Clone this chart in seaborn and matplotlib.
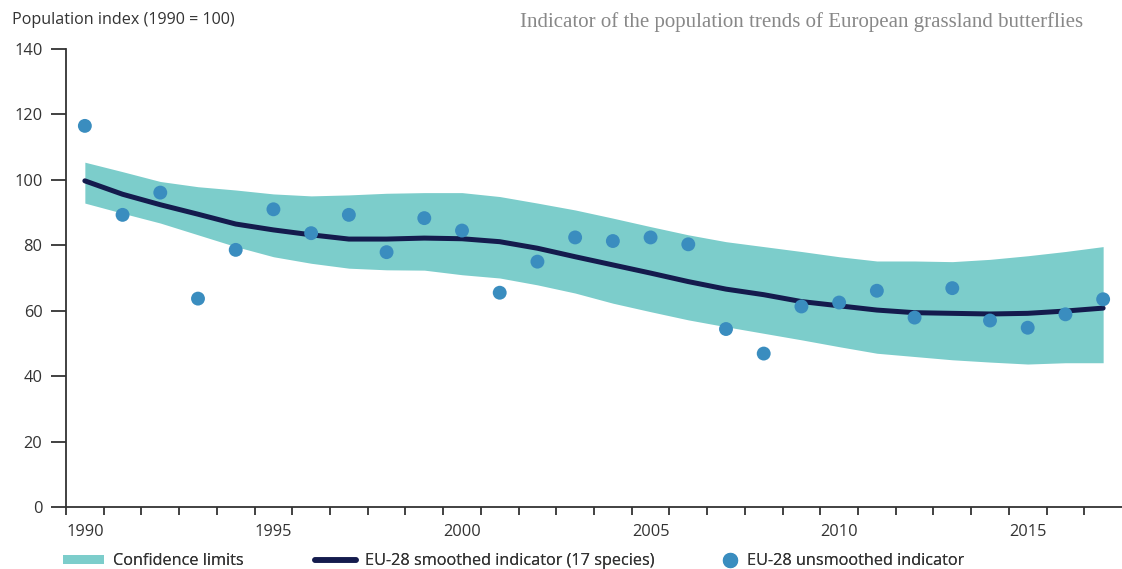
import numpy as np
import pandas as pd
import matplotlib
matplotlib.use("Agg")
import matplotlib.pyplot as plt
import seaborn as sns
from matplotlib.patches import Patch
from matplotlib.lines import Line2D

years = list(range(1990, 2018))
unsmoothed = [116.5, 89.3, 96.1, 63.7, 78.6, 91.0, 83.7, 89.3, 77.9, 88.3,
              84.5, 65.5, 75.0, 82.4, 81.3, 82.4, 80.3, 54.4, 46.9, 61.3,
              62.5, 66.1, 57.9, 66.9, 57.0, 54.8, 58.9, 63.5]
smoothed = [99.7, 95.6, 92.4, 89.5, 86.5, 84.7, 83.2, 81.9, 81.9, 82.2,
            82.0, 81.1, 79.1, 76.5, 74.0, 71.5, 68.9, 66.6, 64.9, 62.8,
            61.5, 60.2, 59.4, 59.2, 59.0, 59.2, 59.9, 60.8]
upper = [105.4, 102.5, 99.5, 97.9, 96.9, 95.7, 95.1, 95.4, 95.9, 96.1,
         96.1, 94.9, 92.9, 90.8, 88.3, 85.7, 83.2, 81.1, 79.6, 78.1,
         76.5, 75.2, 75.2, 75.0, 75.7, 76.8, 78.1, 79.6]
lower = [92.9, 89.8, 86.8, 83.2, 79.6, 76.5, 74.5, 73.0, 72.5, 72.4,
         71.0, 70.0, 67.9, 65.4, 62.3, 59.7, 57.2, 55.1, 53.1, 51.1,
         49.0, 47.0, 46.0, 45.0, 44.3, 43.7, 44.1, 44.1]
xtick_labels = [1990, 1995, 2000, 2005, 2010, 2015]
yticks = [0, 20, 40, 60, 80, 100, 120, 140]

df = pd.DataFrame({"year": years, "unsmoothed": unsmoothed,
                   "smoothed": smoothed, "upper": upper, "lower": lower})

sns.set_theme(style="white")
plt.rcParams["font.family"] = ["Open Sans", "DejaVu Sans"]

band_c = "#7ccdcb"
line_c = "#141b4d"
dot_c = "#3a8dbf"
txt_c = "#333333"

fig = plt.figure(figsize=(11.22, 5.69), dpi=100)
ax = fig.add_axes([66/1122, 1-507/569, 1-66/1122, (507-49)/569])

ax.fill_between(df["year"], df["lower"], df["upper"], color=band_c, lw=0, zorder=1)
sns.lineplot(data=df, x="year", y="smoothed", ax=ax, color=line_c, lw=3.6, zorder=2)
sns.scatterplot(data=df, x="year", y="unsmoothed", ax=ax, color=dot_c, s=100,
                edgecolor="none", zorder=3)

ax.set_xlim(1989.5, 2017.5)
ax.set_ylim(0, 140)
ax.set_xlabel("")
ax.set_ylabel("")
for s in ["top", "right"]:
    ax.spines[s].set_visible(False)
for s in ["left", "bottom"]:
    ax.spines[s].set_color(txt_c)
    ax.spines[s].set_linewidth(1.3)

ax.set_xticks(xtick_labels)
ax.set_xticklabels([str(v) for v in xtick_labels])
ax.set_xticks(np.arange(1989.5, 2017.0, 1.0), minor=True)
ax.tick_params(axis="x", which="major", length=0, pad=12, labelsize=11.8, labelcolor=txt_c)
ax.tick_params(axis="x", which="minor", length=6, width=1.3, color=txt_c, direction="out", bottom=True)
ax.set_yticks(yticks)
ax.tick_params(axis="y", which="major", length=11, width=1.3, color=txt_c, pad=6,
               labelsize=11.8, labelcolor=txt_c, left=True)

fig.text(12/1122, 1-20/569, "Population index (1990 = 100)", fontsize=11.6,
         color=txt_c, va="center", ha="left")
fig.text(1083/1122, 1-22/569,
         "Indicator of the population trends of European grassland butterflies",
         fontsize=15, color="#888888", va="center", ha="right",
         family=["Liberation Serif", "DejaVu Serif"])

items = [
    (Patch(facecolor=band_c, edgecolor="none"), "Confidence limits", 63, 2.5),
    (Line2D([], [], color=line_c, lw=4), "EU-28 smoothed indicator (17 species)", 315, 2.5),
    (Line2D([], [], color=dot_c, marker="o", ls="none", markersize=10),
     "EU-28 unsmoothed indicator", 722, 1.0),
]
for h, lab, x0, hl in items:
    leg = fig.legend([h], [lab], loc="center left", bbox_to_anchor=(x0/1122, 1-561/569),
                     frameon=False, fontsize=11.7, handlelength=hl,
                     handleheight=0.5, handletextpad=0.55,
                     labelcolor=txt_c, borderaxespad=0, borderpad=0)
    fig.add_artist(leg)

fig.savefig("out.png", dpi=100)
